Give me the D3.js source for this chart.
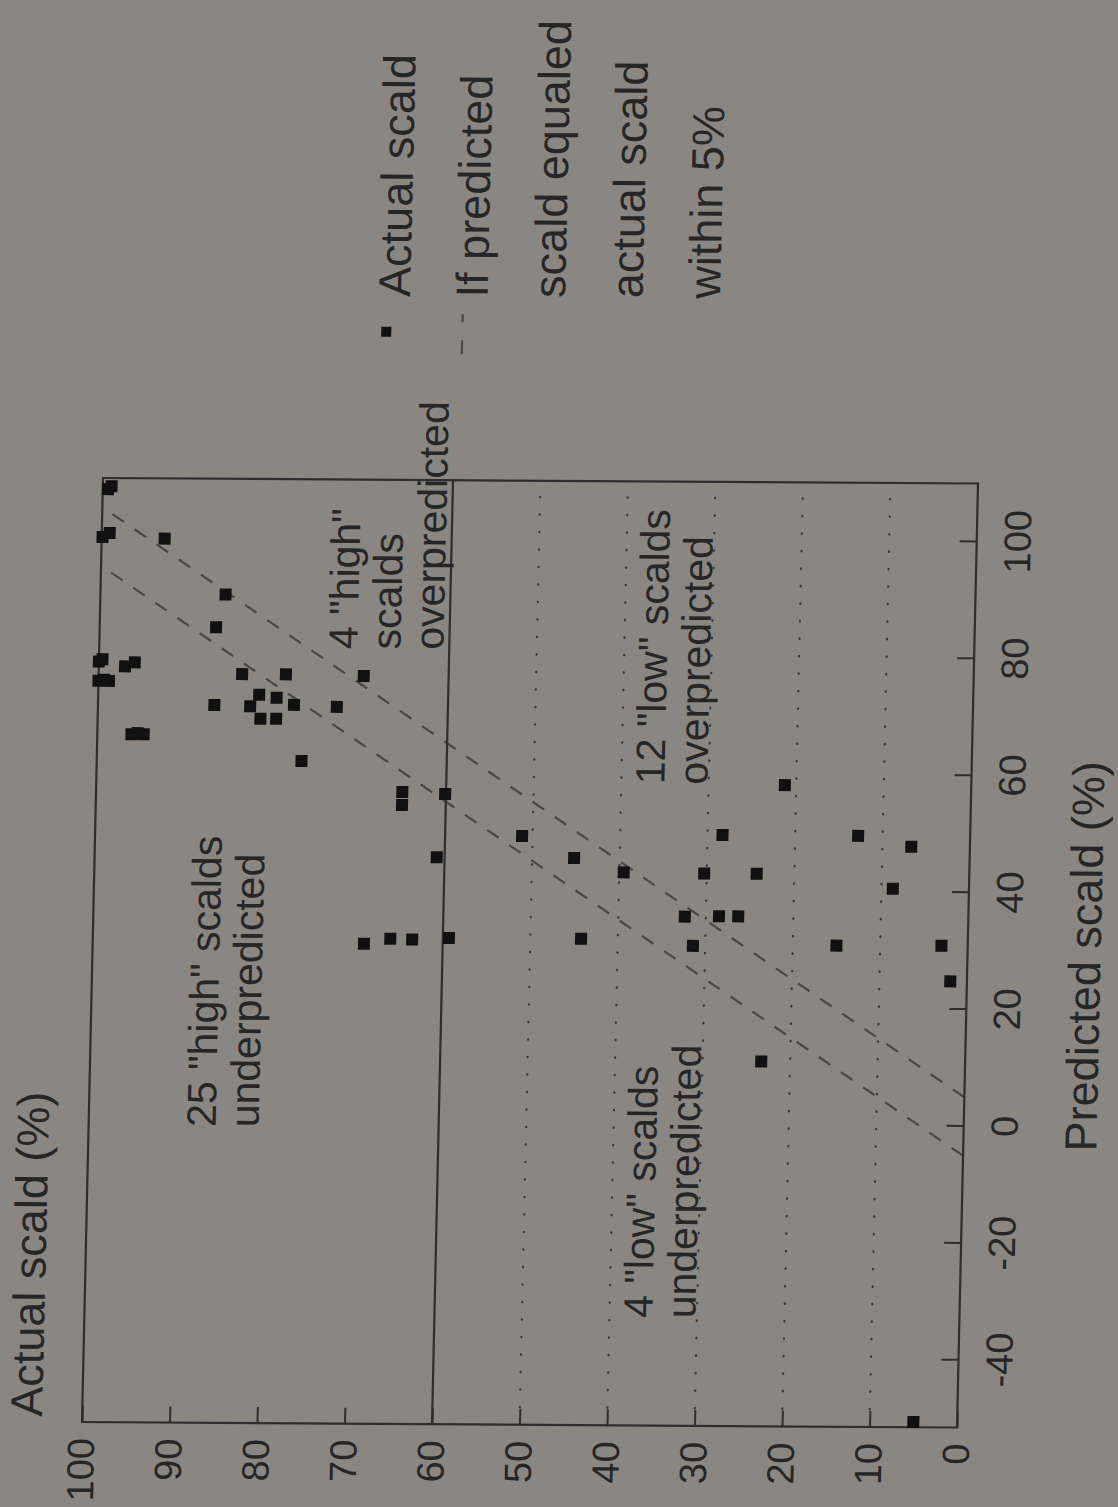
<!DOCTYPE html>
<html>
<head>
<meta charset="utf-8">
<script src="https://cdn.jsdelivr.net/npm/d3@7/dist/d3.min.js"></script>
<style>
  html, body { margin: 0; padding: 0; background: #8a8782; }
  svg { display: block; }
  text { font-family: "Liberation Sans", Arial, Helvetica, sans-serif; fill: #262626; }
</style>
</head>
<body>
<svg id="chart" width="1118" height="1507"></svg>
<script>
// values (percent)
var predicted = [108.1, 108.6, 99.9, 100.6, 99.7, 90.2, 84.6, 78.6, 79.0, 77.8,
                 78.5, 75.3, 75.3, 75.5, 76.6, 76.6, 76.4, 71.3, 73.1, 72.6,
                 71.1, 71.4, 69.0, 69.0, 71.1, 66.2, 66.2, 66.4, 61.8, 56.6,
                 54.4, 56.3, 45.5, 30.6, 31.5, 31.4, 31.7, 49.2, 58.2, 49.6,
                 49.6, 47.8, 45.5, 43.1, 43.0, 43.0, 40.6, 35.6, 35.7, 35.7,
                 31.7, 30.6, 30.8, 30.9, 24.8, 10.9, -50.6];
var actual    = [99.4, 99.0, 99.9, 99.1, 92.8, 85.7, 86.7, 100, 99.6, 97.0,
                 95.9, 100, 98.8, 99.4, 83.6, 78.6, 69.7, 86.7, 81.6, 79.6,
                 82.6, 77.6, 81.4, 79.6, 72.7, 96.1, 94.7, 95.4, 76.6, 65.0,
                 65.0, 60.1, 60.9, 69.0, 66.0, 63.5, 59.3, 51.2, 21.3, 28.3,
                 12.8, 6.7, 45.2, 39.5, 30.3, 24.3, 8.7, 32.4, 28.5, 26.3,
                 44.2, 31.4, 15.0, 3.0, 1.9, 23.3, 5.0];

var predTicks = [-40, -20, 0, 20, 40, 60, 80, 100];
var actualTicks = [0, 10, 20, 30, 40, 50, 60, 70, 80, 90, 100];
var gridActual = [10, 20, 30, 40, 50];
var highCut = 60;
var band = 5;

var legendLines = ["Actual scald", "If predicted", "scald equaled", "actual scald", "within 5%"];

var noteText = [
    ["25 \"high\" scalds", "underpredicted"],
    ["4 \"high\"", "scalds", "overpredicted"],
    ["12 \"low\" scalds", "overpredicted"],
    ["4 \"low\" scalds", "underpredicted"]
];
var notePred = [-0.9, 81.0, 58.2, -33.1];
var noteActual = [85.5, 70.5, 35.1, 35.1];

// plot frame, drawn upright then turned onto the page like the scan
var W = 944, H = 875;
var svg = d3.select("#chart");

svg.append("rect")
   .attr("width", 1118)
   .attr("height", 1507)
   .attr("fill", "#8a8782");

var g = svg.append("g")
   .attr("transform", "matrix(0.02225,-1,1,0.00629,82,1422)");

var x = d3.scaleLinear().domain([-51.5, 110]).range([0, W]);
var y = d3.scaleLinear().domain([0, 100]).range([H, 0]);

// dotted levels
g.selectAll(".grid")
 .data(gridActual)
 .enter()
 .append("line")
 .attr("class", "grid")
 .attr("x1", 0).attr("x2", W)
 .attr("y1", function(d){ return y(d); })
 .attr("y2", function(d){ return y(d); })
 .attr("stroke", "#383838")
 .attr("stroke-width", 2.2)
 .attr("stroke-linecap", "round")
 .attr("stroke-dasharray", "0.5,17");

// +/- 5% band
var bandLine = d3.line()
   .x(function(d){ return x(d[0]); })
   .y(function(d){ return y(d[1]); });

[band, -band].forEach(function(off){
    g.append("path")
     .attr("d", bandLine([[0 - off, 0], [100 - off, 100]]))
     .attr("fill", "none")
     .attr("stroke", "#484848")
     .attr("stroke-width", 2.2)
     .attr("stroke-dasharray", "14,13");
});

// high / low split
g.append("line")
 .attr("x1", 0).attr("x2", W)
 .attr("y1", y(highCut)).attr("y2", y(highCut))
 .attr("stroke", "#2e2e2e")
 .attr("stroke-width", 2.2);

// axes
var yAxis = d3.axisLeft(y)
   .tickValues(actualTicks)
   .tickSizeInner(-16)
   .tickSizeOuter(0)
   .tickPadding(16)
   .tickFormat(function(d){ return String(d); });

var xAxis = d3.axisBottom(x)
   .tickValues(predTicks)
   .tickSizeInner(-17)
   .tickSizeOuter(0)
   .tickPadding(27)
   .tickFormat(function(d){ return String(d); });

var ya = g.append("g").call(yAxis);
var xa = g.append("g").attr("transform", "translate(0," + H + ")").call(xAxis);

[ya, xa].forEach(function(a){
    a.select(".domain").remove();
    a.selectAll(".tick line").attr("stroke", "#2e2e2e").attr("stroke-width", 2);
    a.selectAll(".tick text")
     .attr("fill", "#262626")
     .style("font-size", "38px")
     .style("font-family", "'Liberation Sans', Arial, sans-serif");
});

// frame
g.append("rect")
 .attr("width", W)
 .attr("height", H)
 .attr("fill", "none")
 .attr("stroke", "#2e2e2e")
 .attr("stroke-width", 2.2);

// points
var pts = predicted.map(function(p, i){ return [p, actual[i]]; });
g.selectAll(".pt")
 .data(pts)
 .enter()
 .append("rect")
 .attr("class", "pt")
 .attr("x", function(d){ return x(d[0]) - 6; })
 .attr("y", function(d){ return y(d[1]) - 6; })
 .attr("width", 12)
 .attr("height", 12)
 .attr("fill", "#111");

// region notes
noteText.forEach(function(lines, i){
    var t = g.append("text")
       .attr("x", x(notePred[i]))
       .attr("y", y(noteActual[i]))
       .style("font-size", "41px");
    lines.forEach(function(s, j){
        t.append("tspan")
         .attr("x", x(notePred[i]))
         .attr("dy", j === 0 ? 0 : 43)
         .text(s);
    });
});

// axis titles
g.append("text")
 .attr("x", 5)
 .attr("y", -40)
 .style("font-size", "45px")
 .text("Actual scald (%)");

g.append("text")
 .attr("x", W / 2)
 .attr("y", H + 133)
 .attr("text-anchor", "middle")
 .style("font-size", "45px")
 .text("Predicted scald (%)");

// legend
var lg = g.append("g").attr("transform", "translate(1127,303)");

lg.append("rect")
  .attr("x", -40).attr("y", -28)
  .attr("width", 10).attr("height", 10)
  .attr("fill", "#111");

lg.append("line")
  .attr("x1", -57).attr("x2", -17)
  .attr("y1", 53).attr("y2", 53)
  .attr("stroke", "#484848")
  .attr("stroke-width", 2.2)
  .attr("stroke-dasharray", "14,18");

lg.selectAll(".lgtext")
  .data(legendLines)
  .enter()
  .append("text")
  .attr("class", "lgtext")
  .attr("x", 0)
  .attr("y", function(d, i){ return i * 77.5; })
  .style("font-size", "45px")
  .text(function(d){ return d; });
</script>
</body>
</html>
